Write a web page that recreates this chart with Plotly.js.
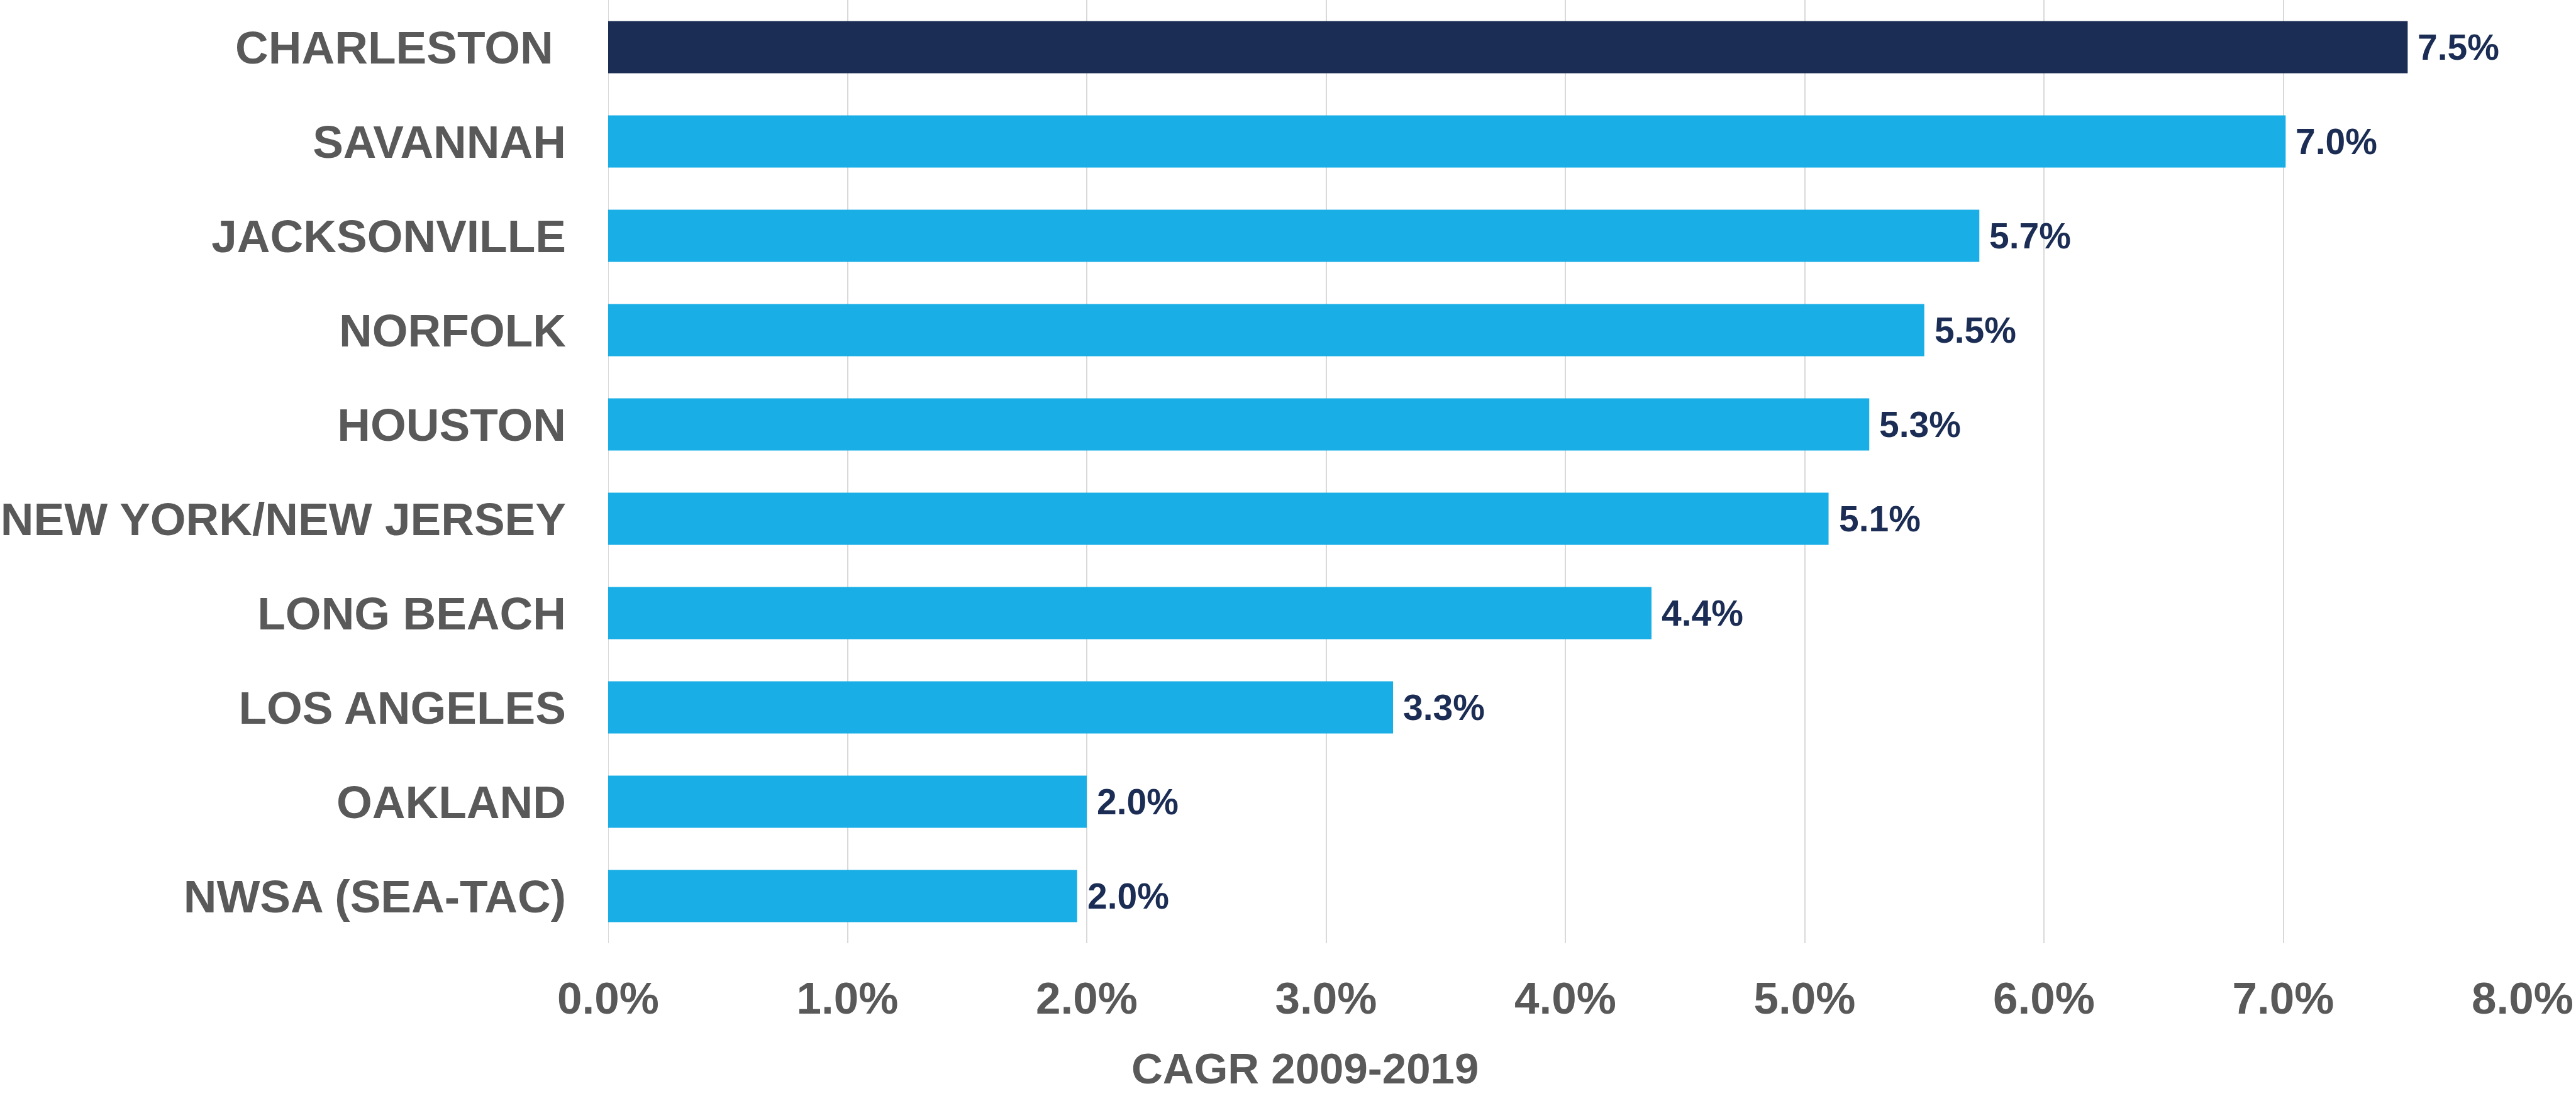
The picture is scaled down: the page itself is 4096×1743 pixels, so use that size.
<!DOCTYPE html>
<html>
<head>
<meta charset="utf-8">
<script src="https://cdn.plot.ly/plotly-3.0.1.min.js"></script>
<style>
  html, body { margin: 0; padding: 0; background: #ffffff; }
  #chart { width: 4096px; height: 1743px; }
</style>
</head>
<body>
<div id="chart"></div>
<script>
// ---- data ----
const ports = [
  "CHARLESTON\u00a0",
  "SAVANNAH",
  "JACKSONVILLE",
  "NORFOLK",
  "HOUSTON",
  "NEW YORK/NEW JERSEY",
  "LONG BEACH",
  "LOS ANGELES",
  "OAKLAND",
  "NWSA (SEA-TAC)"
];
const cagr = [7.52, 7.01, 5.73, 5.50, 5.27, 5.10, 4.36, 3.28, 2.00, 1.96];
const highlightPort = "CHARLESTON\u00a0";
const xTickVals = [0, 1, 2, 3, 4, 5, 6, 7, 8];
const xTickText = ["0.0%", "1.0%", "2.0%", "3.0%", "4.0%", "5.0%", "6.0%", "7.0%", "8.0%"];
const axisTitle = "CAGR 2009-2019";

// ---- styles ----
const NAVY = "#1B2D54";
const BLUE = "#1AAEE6";
const GREY = "#595959";
const FONT = "Arial, 'Liberation Sans', sans-serif";

const barColors = ports.map(p => p === highlightPort ? NAVY : BLUE);

const trace = {
  type: "bar",
  orientation: "h",
  y: ports,
  x: cagr,
  marker: { color: barColors, line: { width: 0 } },
  hoverinfo: "skip"
};

const valueAnnotations = ports.map((p, i) => ({
  x: cagr[i],
  y: p,
  xref: "x",
  yref: "y",
  text: cagr[i].toFixed(1) + "%",
  showarrow: false,
  xanchor: "left",
  yanchor: "middle",
  xshift: 14,
  font: { family: FONT, size: 57, color: NAVY, weight: 700 }
}));

const titleAnnotation = {
  xref: "paper",
  yref: "paper",
  x: 0.364,
  y: -0.1327,
  xanchor: "center",
  yanchor: "middle",
  text: axisTitle,
  showarrow: false,
  font: { family: FONT, size: 69, color: GREY, weight: 700 }
};

const layout = {
  width: 4096,
  height: 1743,
  margin: { l: 967, r: 85, t: 0, b: 243, pad: 0 },
  paper_bgcolor: "#ffffff",
  plot_bgcolor: "#ffffff",
  bargap: 0.446,
  showlegend: false,
  font: { family: FONT, color: GREY },
  xaxis: {
    range: [0, 8],
    tickvals: xTickVals,
    ticktext: xTickText,
    showgrid: true,
    gridcolor: "#D9D9D9",
    gridwidth: 2,
    zeroline: false,
    showline: false,
    ticks: "",
    ticklabelstandoff: 40,
    tickfont: { family: FONT, size: 71, color: GREY, weight: 700 },
    fixedrange: true
  },
  yaxis: {
    type: "category",
    autorange: "reversed",
    showgrid: false,
    zeroline: false,
    showline: false,
    ticks: "",
    ticklabelstandoff: 66,
    tickfont: { family: FONT, size: 73, color: GREY, weight: 700 },
    fixedrange: true
  },
  shapes: [{
    type: "line", xref: "x", yref: "paper",
    x0: 0, x1: 0, y0: 0, y1: 1,
    line: { color: "#D9D9D9", width: 2 },
    layer: "below"
  }],
  annotations: valueAnnotations.concat([titleAnnotation])
};

Plotly.newPlot("chart", [trace], layout, { staticPlot: true, displayModeBar: false });
</script>
</body>
</html>
